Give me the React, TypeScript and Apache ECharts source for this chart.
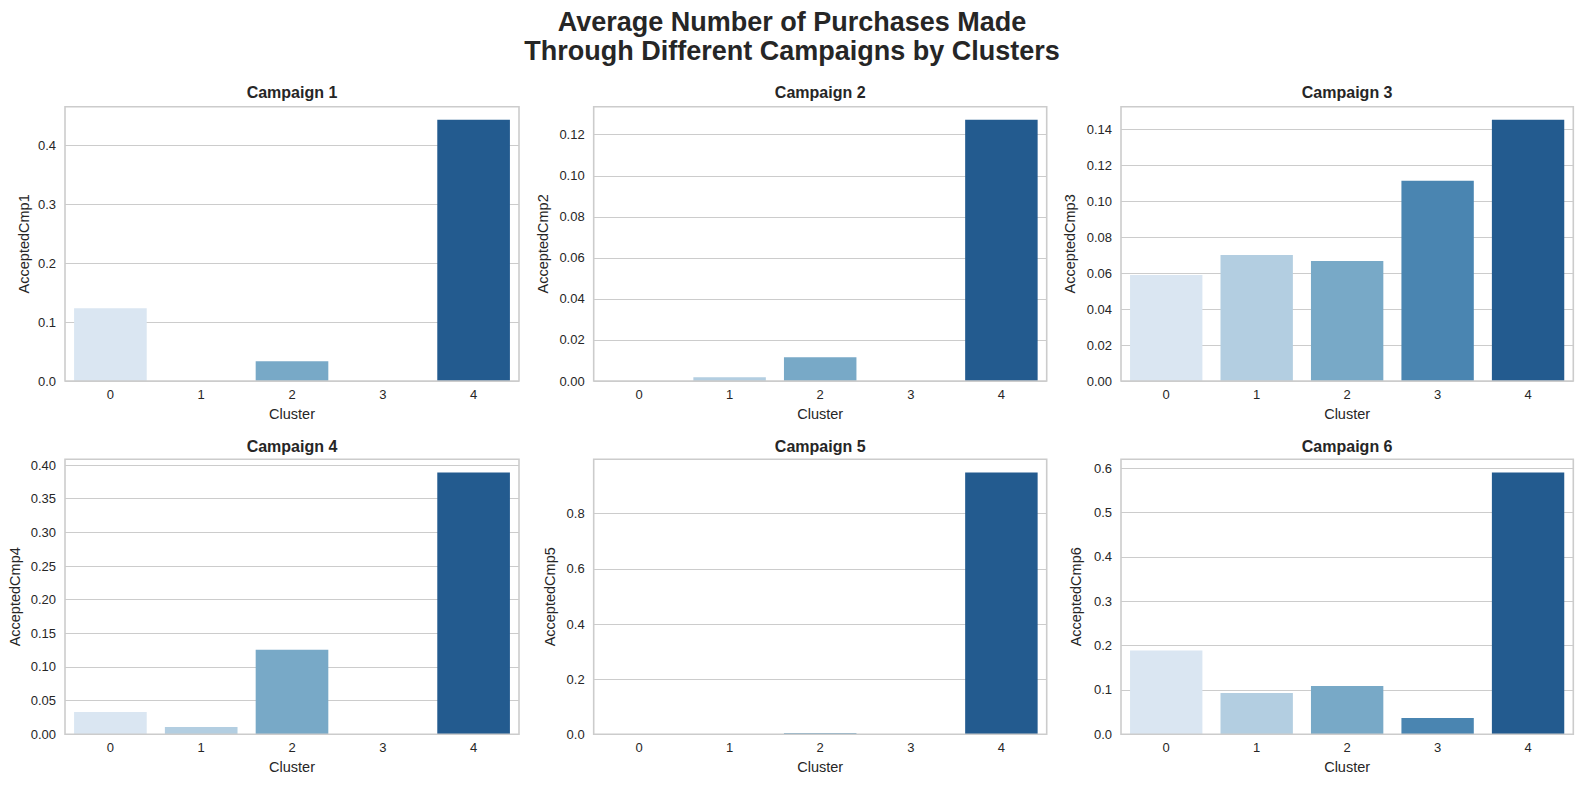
import React, { useEffect, useRef } from "react";
import * as echarts from "echarts";

// ---- data ----
const clusters = ["0", "1", "2", "3", "4"];
const campaignTitles = ["Campaign 1", "Campaign 2", "Campaign 3", "Campaign 4", "Campaign 5", "Campaign 6"];
const yNames = ["AcceptedCmp1", "AcceptedCmp2", "AcceptedCmp3", "AcceptedCmp4", "AcceptedCmp5", "AcceptedCmp6"];
const cmp1 = [0.1237, 0, 0.0335, 0, 0.4437];
const cmp2 = [0, 0.0018, 0.0116, 0, 0.1273];
const cmp3 = [0.0589, 0.07, 0.0667, 0.1113, 0.1452];
const cmp4 = [0.0332, 0.0109, 0.1255, 0, 0.3891];
const cmp5 = [0, 0, 0.005, 0, 0.95];
const cmp6 = [0.1888, 0.0933, 0.1091, 0.0368, 0.5903];
const yIntervals = [0.1, 0.02, 0.02, 0.05, 0.2, 0.1];
const yDecimals = [1, 2, 2, 2, 1, 1];
const mainTitle = ["Average Number of Purchases Made", "Through Different Campaigns by Clusters"];
const xName = "Cluster";

const allValues = [cmp1, cmp2, cmp3, cmp4, cmp5, cmp6];
const barColors = ["#dae6f2", "#b3cee1", "#78a9c7", "#4a85b1", "#235b8f"];

// ---- layout ----
const FONT = "'Liberation Sans', Arial, Helvetica, sans-serif";
const TEXT = "#262626";
const GRIDC = "#cccccc";
const rects = [
  { left: 65, top: 106.7, width: 454, height: 274.3 },
  { left: 593.7, top: 106.7, width: 453, height: 274.3 },
  { left: 1121, top: 106.7, width: 452.3, height: 274.3 },
  { left: 65, top: 459.3, width: 454, height: 275 },
  { left: 593.7, top: 459.3, width: 453, height: 275 },
  { left: 1121, top: 459.3, width: 452.3, height: 275 },
];
const yNameGaps = [34, 43, 44, 42.5, 36.7, 37.5];
const titleY = [92.7, 92.7, 92.7, 446.7, 446.7, 446.7];
const mainTitleY = [22, 50.5];

export default function App() {
  const ref = useRef<HTMLDivElement>(null);
  useEffect(() => {
    if (!ref.current) return;
    const chart = echarts.init(ref.current, undefined, { renderer: "svg" });
    const grid: any[] = [];
    const xAxis: any[] = [];
    const yAxis: any[] = [];
    const series: any[] = [];
    const graphic: any[] = [];

    mainTitle.forEach((line, k) => {
      graphic.push({
        type: "text",
        x: 792,
        y: mainTitleY[k],
        style: {
          text: line,
          align: "center",
          verticalAlign: "middle",
          fill: TEXT,
          fontFamily: FONT,
          fontSize: 27,
          fontWeight: "bold",
        },
      });
    });

    allValues.forEach((vals, i) => {
      const r = rects[i];
      const interval = yIntervals[i];
      const dec = yDecimals[i];
      grid.push({ left: r.left, top: r.top, width: r.width, height: r.height, show: true, borderColor: GRIDC, borderWidth: 1.6, backgroundColor: "transparent", z: 5 });
      xAxis.push({
        type: "category",
        gridIndex: i,
        data: clusters,
        axisTick: { show: false },
        axisLine: { show: false },
        axisLabel: { color: TEXT, fontFamily: FONT, fontSize: 13, margin: 7 },
        name: xName,
        nameLocation: "middle",
        nameGap: 25,
        nameTextStyle: { color: TEXT, fontFamily: FONT, fontSize: 14.5 },
      });
      yAxis.push({
        type: "value",
        gridIndex: i,
        min: 0,
        max: Math.max(...vals) * 1.05,
        interval,
        axisTick: { show: false },
        axisLine: { show: false },
        splitLine: { show: true, lineStyle: { color: GRIDC, width: 1.2 } },
        axisLabel: {
          color: TEXT,
          fontFamily: FONT,
          fontSize: 13,
          margin: 9,
          showMaxLabel: false,
          formatter: (v: number) => {
            const k = v / interval;
            return Math.abs(k - Math.round(k)) < 1e-6 ? v.toFixed(dec) : "";
          },
        },
        name: yNames[i],
        nameLocation: "middle",
        nameGap: yNameGaps[i],
        nameTextStyle: { color: TEXT, fontFamily: FONT, fontSize: 14.5 },
      });
      series.push({
        type: "bar",
        xAxisIndex: i,
        yAxisIndex: i,
        barCategoryGap: "20%",
        data: vals.map((v, j) => ({ value: v, itemStyle: { color: barColors[j] } })),
      });
      graphic.push({
        type: "text",
        x: r.left + r.width / 2,
        y: titleY[i],
        style: { text: campaignTitles[i], align: "center", verticalAlign: "middle", fill: TEXT, fontFamily: FONT, fontSize: 16, fontWeight: "bold" },
      });
    });

    chart.setOption({
      animation: false,
      backgroundColor: "#ffffff",
      grid,
      xAxis,
      yAxis,
      series,
      graphic,
    });
    return () => chart.dispose();
  }, []);
  return <div ref={ref} style={{ position: "absolute", left: 0, top: 0, width: 1584, height: 786 }} />;
}
